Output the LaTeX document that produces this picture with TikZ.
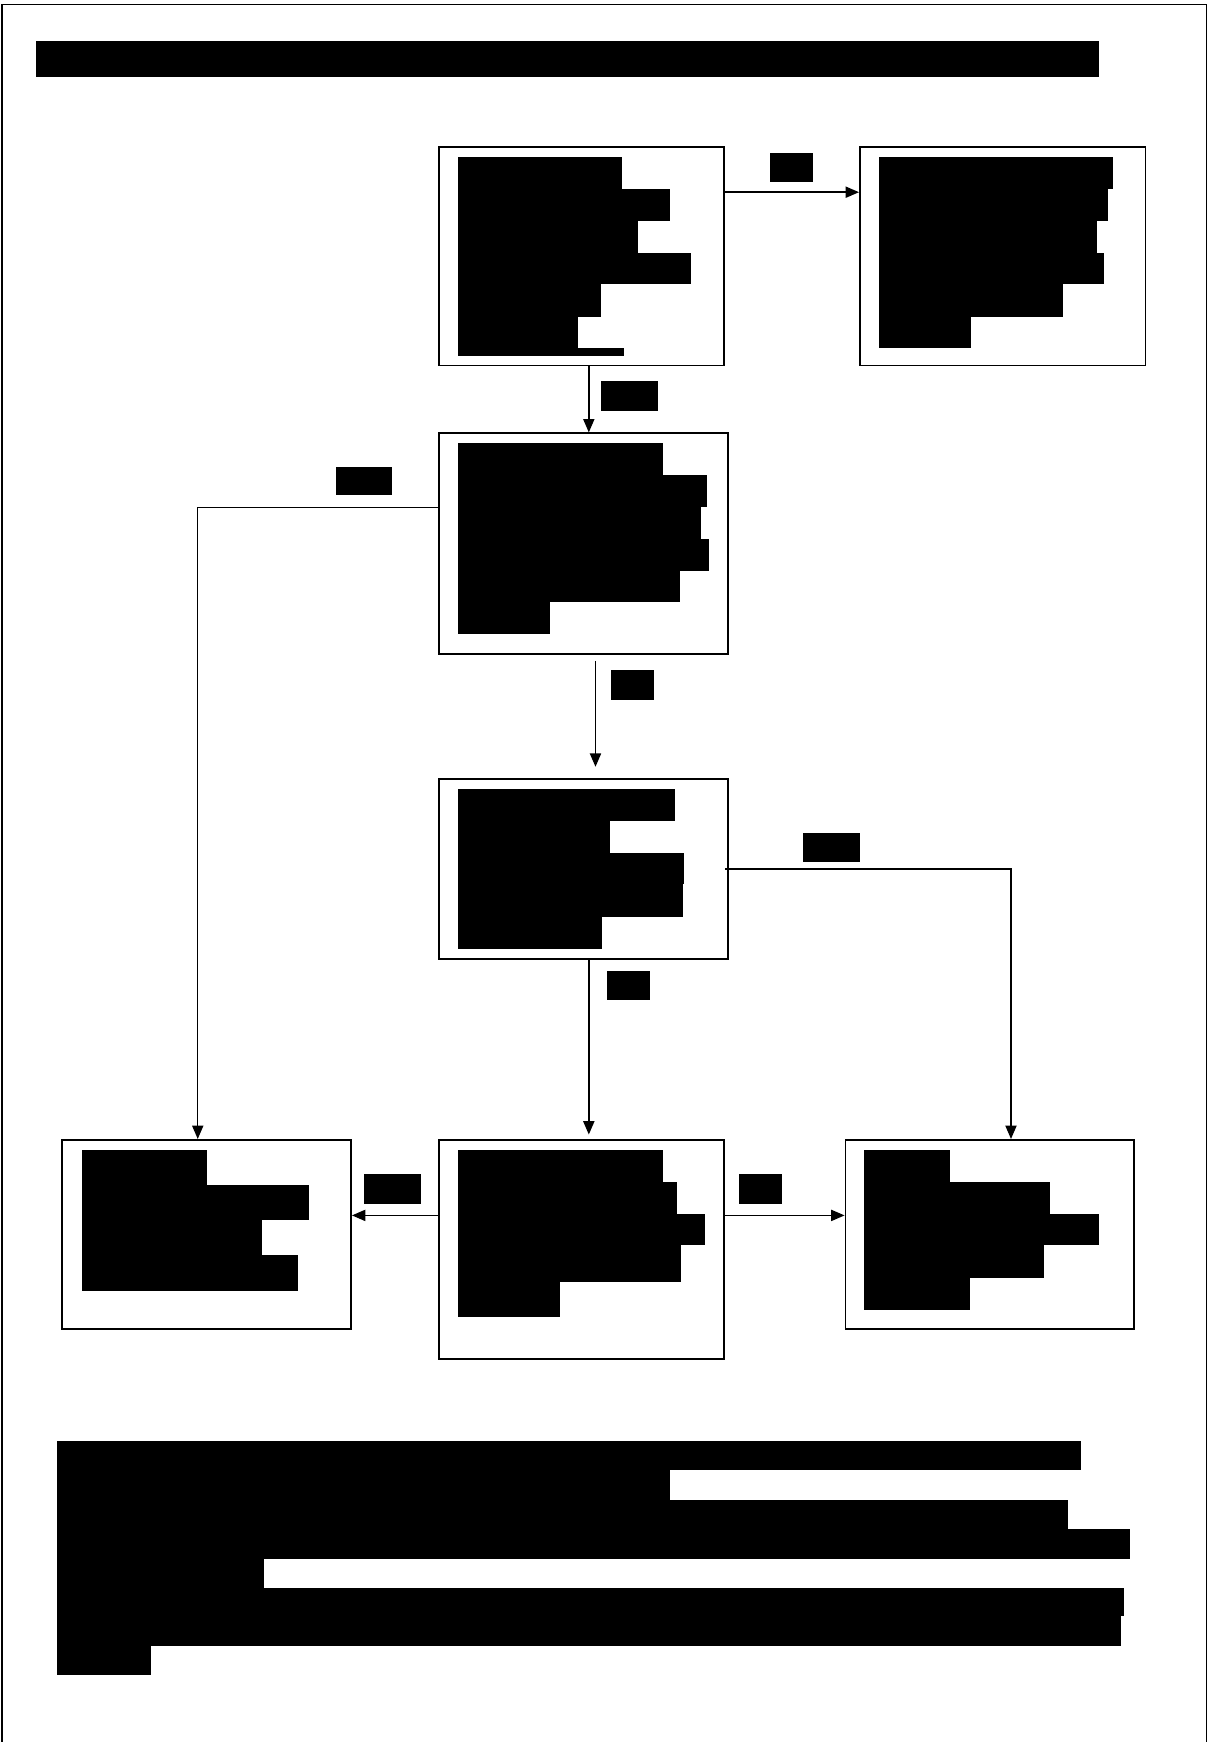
\documentclass[tikz,border=0pt]{standalone}
\usetikzlibrary{arrows.meta}
\begin{document}
\begin{tikzpicture}[x=0.5pt,y=-0.5pt,
  box/.style={draw=black,line width=0.8pt,fill=white,inner sep=0pt},
  bar/.style={fill=black},
  lbl/.style={fill=black,inner sep=0pt},
  arr/.style={draw=black,line width=0.65pt,-{Triangle[length=6pt,width=5pt]}}]
\useasboundingbox (0,0) rectangle (1088,1568);
% outer frame
\draw[line width=0.7pt] (2,1580) -- (2,4) -- (1086,4) -- (1086,1580);
% title
\node[lbl,minimum width=478.5pt,minimum height=16pt] (title) at (510.5,53) {};
% boxes
\node[box,minimum width=128.5pt,minimum height=98.5pt] (A) at (523.5,230.5) {};
\node[box,minimum width=128.5pt,minimum height=98.5pt] (B) at (902.5,230.5) {};
\node[box,minimum width=130pt,minimum height=99.5pt] (C) at (525,489.5) {};
\node[box,minimum width=130pt,minimum height=81pt] (D) at (525,782) {};
\node[box,minimum width=128.5pt,minimum height=98.5pt] (E) at (523.5,1124.5) {};
\node[box,minimum width=130pt,minimum height=85pt] (F) at (186,1111) {};
\node[box,minimum width=130pt,minimum height=85pt] (G) at (891,1111) {};
% text lines in A
\fill[bar] (412,141) rectangle (560,170);
\fill[bar] (412,170) rectangle (603,199);
\fill[bar] (412,199) rectangle (574,228);
\fill[bar] (412,228) rectangle (622,256);
\fill[bar] (412,256) rectangle (541,285);
\fill[bar] (412,285) rectangle (520,313);
\fill[bar] (412,313) rectangle (562,320);
% text lines in B
\fill[bar] (791,141) rectangle (1002,170);
\fill[bar] (791,170) rectangle (997,199);
\fill[bar] (791,199) rectangle (987,228);
\fill[bar] (791,228) rectangle (994,256);
\fill[bar] (791,256) rectangle (957,285);
\fill[bar] (791,285) rectangle (874,313);
% text lines in C
\fill[bar] (412,399) rectangle (597,428);
\fill[bar] (412,428) rectangle (636,456);
\fill[bar] (412,456) rectangle (631,485);
\fill[bar] (412,485) rectangle (638,514);
\fill[bar] (412,514) rectangle (612,542);
\fill[bar] (412,542) rectangle (495,571);
% text lines in D
\fill[bar] (412,710) rectangle (608,739);
\fill[bar] (412,739) rectangle (549,768);
\fill[bar] (412,768) rectangle (616,796);
\fill[bar] (412,796) rectangle (615,825);
\fill[bar] (412,825) rectangle (542,854);
% text lines in E
\fill[bar] (412,1035) rectangle (597,1064);
\fill[bar] (412,1064) rectangle (609,1093);
\fill[bar] (412,1093) rectangle (635,1121);
\fill[bar] (412,1121) rectangle (613,1154);
\fill[bar] (412,1154) rectangle (504,1185);
% text lines in F
\fill[bar] (74,1035) rectangle (186,1067);
\fill[bar] (74,1067) rectangle (278,1098);
\fill[bar] (74,1098) rectangle (236,1130);
\fill[bar] (74,1130) rectangle (268,1162);
% text lines in G
\fill[bar] (778,1035) rectangle (855,1064);
\fill[bar] (778,1064) rectangle (945,1093);
\fill[bar] (778,1093) rectangle (989,1121);
\fill[bar] (778,1121) rectangle (940,1150);
\fill[bar] (778,1150) rectangle (873,1179);
% bottom paragraph
\fill[bar] (51,1297) rectangle (973,1323);
\fill[bar] (51,1323) rectangle (603,1350);
\fill[bar] (51,1350) rectangle (961,1376);
\fill[bar] (51,1376) rectangle (1017,1403);
\fill[bar] (51,1403) rectangle (238,1429);
\fill[bar] (51,1429) rectangle (1012,1455);
\fill[bar] (51,1455) rectangle (1009,1482);
\fill[bar] (51,1482) rectangle (136,1508);
% helper coordinates
\coordinate (ab) at (0,173);
\coordinate (xa) at (530,0);
\coordinate (cf) at (178,457);
\coordinate (xc) at (536,0);
\coordinate (dg) at (910,0);
\coordinate (ef) at (0,1094);
% connectors
\draw[arr] (A.east |- ab) -- (B.west |- ab);
\draw[arr] (A.south -| xa) -- (C.north -| xa);
\draw[arr] (C.west |- cf) -| (F.north -| cf);
\draw[arr,shorten <=2.5pt,shorten >=5pt] (C.south -| xc) -- (D.north -| xc);
\draw[arr] ([xshift=-1.5pt]D.east) -| (G.north -| dg);
\draw[arr,shorten >=2pt] (D.south -| xa) -- (E.north -| xa);
\draw[arr] (E.west |- ef) -- (F.east |- ef);
\draw[arr] (E.east |- ef) -- (G.west |- ef);
% connector labels
\node[lbl,minimum width=19.5pt,minimum height=13pt] (lab) at (712.5,151) {};
\node[lbl,minimum width=25.5pt,minimum height=13.5pt] (lac) at (566.5,356.5) {};
\node[lbl,minimum width=25.5pt,minimum height=13pt] (lcf) at (327.5,433) {};
\node[lbl,minimum width=19.5pt,minimum height=13.5pt] (lcd) at (569.5,616.5) {};
\node[lbl,minimum width=25.5pt,minimum height=13pt] (ldg) at (748.5,763) {};
\node[lbl,minimum width=19.5pt,minimum height=13pt] (lde) at (565.5,887) {};
\node[lbl,minimum width=25.5pt,minimum height=13.5pt] (lef) at (353.5,1070.5) {};
\node[lbl,minimum width=19.5pt,minimum height=13.5pt] (leg) at (684.5,1070.5) {};
\end{tikzpicture}
\end{document}
